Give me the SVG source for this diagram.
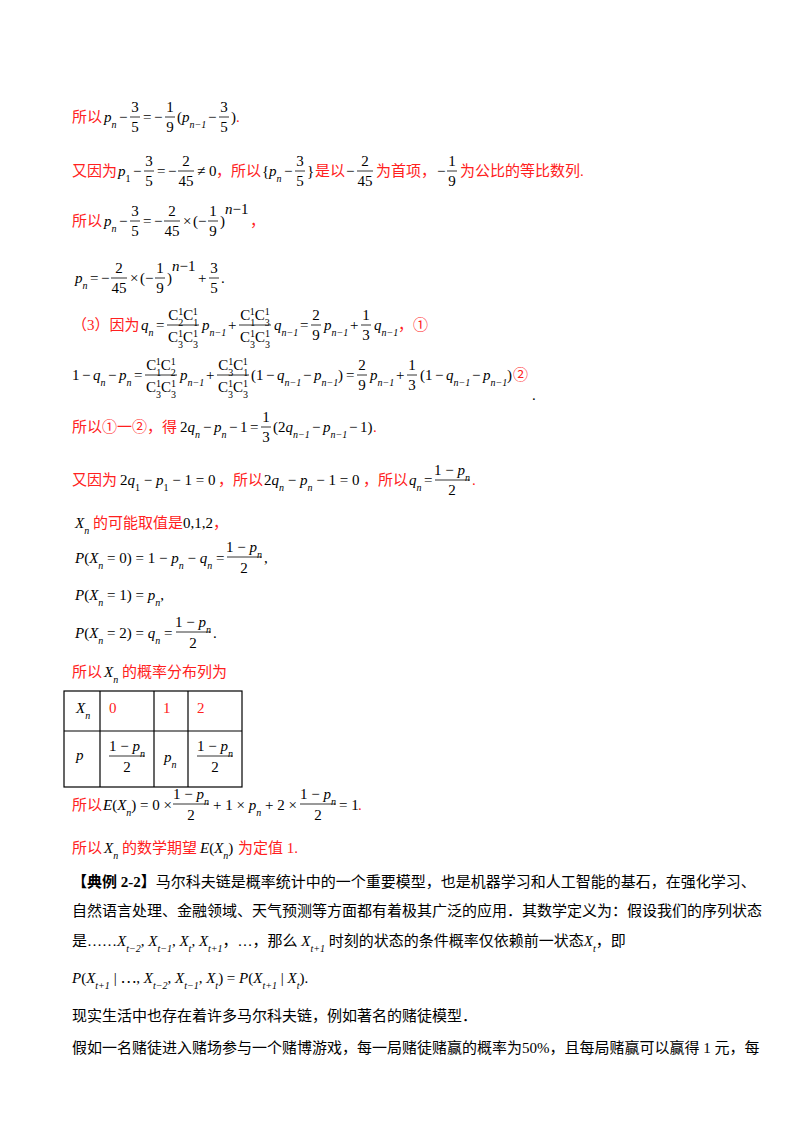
<svg xmlns="http://www.w3.org/2000/svg" width="800" height="1132" viewBox="0 0 800 1132">
<style>
text{font-family:"Liberation Serif","Noto Sans CJK SC",serif;font-size:15px;fill:#000}
.r{fill:#ff2020}
.i{font-style:italic}
.s{font-size:10px;baseline-shift:sub}
.u{font-size:10px;baseline-shift:super}
.c{text-anchor:middle}
.fl{stroke:#000;stroke-width:0.8}
.b{font-weight:bold}
.cell{fill:none;stroke:#000;stroke-width:1.2}
</style>
<rect width="800" height="1132" fill="#fff"/>
<g id="l1">
<text x="72" y="122" class="r">所以</text>
<text x="104" y="122"><tspan class="i">p</tspan><tspan class="s i">n</tspan></text>
<text x="119" y="122">−</text>
<text x="135" y="112" class="c">3</text><line x1="130" y1="117" x2="140" y2="117" class="fl"/><text x="135" y="132" class="c">5</text>
<text x="143" y="122">=</text><text x="154" y="122">−</text>
<text x="170" y="112" class="c">1</text><line x1="165" y1="117" x2="175" y2="117" class="fl"/><text x="170" y="132" class="c">9</text>
<text x="177" y="122">(</text>
<text x="182" y="122"><tspan class="i">p</tspan><tspan class="s i">n−1</tspan></text>
<text x="208" y="122">−</text>
<text x="224" y="112" class="c">3</text><line x1="219" y1="117" x2="229" y2="117" class="fl"/><text x="224" y="132" class="c">5</text>
<text x="231" y="122">)</text><text x="236" y="122" class="r">.</text>
</g>
<g id="l2">
<text x="72" y="176" class="r">又因为</text>
<text x="118" y="176"><tspan class="i">p</tspan><tspan class="s">1</tspan></text>
<text x="133" y="176">−</text>
<text x="149" y="166" class="c">3</text><line x1="144" y1="171" x2="154" y2="171" class="fl"/><text x="149" y="186" class="c">5</text>
<text x="157" y="176">=</text><text x="168" y="176">−</text>
<text x="186" y="166" class="c">2</text><line x1="178" y1="171" x2="194" y2="171" class="fl"/><text x="186" y="186" class="c">45</text>
<text x="197" y="176">≠ 0</text>
<text x="216" y="176" class="r">，所以</text>
<text x="262" y="176">{</text>
<text x="269" y="176"><tspan class="i">p</tspan><tspan class="s i">n</tspan></text>
<text x="284" y="176">−</text>
<text x="300" y="166" class="c">3</text><line x1="295" y1="171" x2="305" y2="171" class="fl"/><text x="300" y="186" class="c">5</text>
<text x="307" y="176">}</text>
<text x="315" y="176" class="r">是以</text>
<text x="346" y="176">−</text>
<text x="365" y="166" class="c">2</text><line x1="357" y1="171" x2="373" y2="171" class="fl"/><text x="365" y="186" class="c">45</text>
<text x="376" y="176" class="r">为首项，</text>
<text x="437" y="176">−</text>
<text x="452" y="166" class="c">1</text><line x1="447" y1="171" x2="457" y2="171" class="fl"/><text x="452" y="186" class="c">9</text>
<text x="460" y="176" class="r">为公比的等比数列.</text>
</g>
<g id="l3">
<text x="72" y="226" class="r">所以</text>
<text x="104" y="226"><tspan class="i">p</tspan><tspan class="s i">n</tspan></text>
<text x="119" y="226">−</text>
<text x="135" y="216" class="c">3</text><line x1="130" y1="221" x2="140" y2="221" class="fl"/><text x="135" y="236" class="c">5</text>
<text x="143" y="226">=</text><text x="154" y="226">−</text>
<text x="172" y="216" class="c">2</text><line x1="164" y1="221" x2="180" y2="221" class="fl"/><text x="172" y="236" class="c">45</text>
<text x="183" y="226">×</text><text x="193" y="226">(</text><text x="198" y="226">−</text>
<text x="213" y="216" class="c">1</text><line x1="208" y1="221" x2="218" y2="221" class="fl"/><text x="213" y="236" class="c">9</text>
<text x="220" y="226">)</text><text x="225" y="214" font-size="10"><tspan class="i">n</tspan>−1</text>
<text x="250" y="226" class="r">，</text>
</g>
<g id="l4">
<text x="75" y="283"><tspan class="i">p</tspan><tspan class="s i">n</tspan></text>
<text x="90" y="283">=</text><text x="101" y="283">−</text>
<text x="119" y="273" class="c">2</text><line x1="111" y1="278" x2="127" y2="278" class="fl"/><text x="119" y="293" class="c">45</text>
<text x="130" y="283">×</text><text x="140" y="283">(</text><text x="145" y="283">−</text>
<text x="160" y="273" class="c">1</text><line x1="155" y1="278" x2="165" y2="278" class="fl"/><text x="160" y="293" class="c">9</text>
<text x="167" y="283">)</text><text x="172" y="271" font-size="10"><tspan class="i">n</tspan>−1</text>
<text x="198" y="283">+</text>
<text x="214" y="273" class="c">3</text><line x1="209" y1="278" x2="219" y2="278" class="fl"/><text x="214" y="293" class="c">5</text>
<text x="221" y="283">.</text>
</g>
<g id="l5">
<text x="72" y="330" class="r">（3）因为</text>
<text x="141" y="330"><tspan class="i">q</tspan><tspan class="s i">n</tspan></text>
<text x="156" y="330">=</text>
<text x="183" y="320" class="c">C<tspan class="s">2</tspan><tspan class="u" dx="-5">1</tspan>C<tspan class="s">1</tspan><tspan class="u" dx="-5">1</tspan></text><line x1="167" y1="325" x2="199" y2="325" class="fl"/><text x="183" y="342" class="c">C<tspan class="s">3</tspan><tspan class="u" dx="-5">1</tspan>C<tspan class="s">3</tspan><tspan class="u" dx="-5">1</tspan></text>
<text x="202" y="330"><tspan class="i">p</tspan><tspan class="s i">n−1</tspan></text>
<text x="228" y="330">+</text>
<text x="255" y="320" class="c">C<tspan class="s">1</tspan><tspan class="u" dx="-5">1</tspan>C<tspan class="s">3</tspan><tspan class="u" dx="-5">1</tspan></text><line x1="239" y1="325" x2="271" y2="325" class="fl"/><text x="255" y="342" class="c">C<tspan class="s">3</tspan><tspan class="u" dx="-5">1</tspan>C<tspan class="s">3</tspan><tspan class="u" dx="-5">1</tspan></text>
<text x="274" y="330"><tspan class="i">q</tspan><tspan class="s i">n−1</tspan></text>
<text x="300" y="330">=</text>
<text x="316" y="320" class="c">2</text><line x1="311" y1="325" x2="321" y2="325" class="fl"/><text x="316" y="340" class="c">9</text>
<text x="324" y="330"><tspan class="i">p</tspan><tspan class="s i">n−1</tspan></text>
<text x="350" y="330">+</text>
<text x="366" y="320" class="c">1</text><line x1="361" y1="325" x2="371" y2="325" class="fl"/><text x="366" y="340" class="c">3</text>
<text x="374" y="330"><tspan class="i">q</tspan><tspan class="s i">n−1</tspan></text>
<text x="398" y="330" class="r">，①</text>
</g>
<g id="l6">
<text x="72" y="380">1</text><text x="82" y="380">−</text>
<text x="93" y="380"><tspan class="i">q</tspan><tspan class="s i">n</tspan></text>
<text x="108" y="380">−</text>
<text x="119" y="380"><tspan class="i">p</tspan><tspan class="s i">n</tspan></text>
<text x="134" y="380">=</text>
<text x="161" y="370" class="c">C<tspan class="s">1</tspan><tspan class="u" dx="-5">1</tspan>C<tspan class="s">2</tspan><tspan class="u" dx="-5">1</tspan></text><line x1="145" y1="375" x2="177" y2="375" class="fl"/><text x="161" y="392" class="c">C<tspan class="s">3</tspan><tspan class="u" dx="-5">1</tspan>C<tspan class="s">3</tspan><tspan class="u" dx="-5">1</tspan></text>
<text x="180" y="380"><tspan class="i">p</tspan><tspan class="s i">n−1</tspan></text>
<text x="206" y="380">+</text>
<text x="233" y="370" class="c">C<tspan class="s">3</tspan><tspan class="u" dx="-5">1</tspan>C<tspan class="s">1</tspan><tspan class="u" dx="-5">1</tspan></text><line x1="217" y1="375" x2="249" y2="375" class="fl"/><text x="233" y="392" class="c">C<tspan class="s">3</tspan><tspan class="u" dx="-5">1</tspan>C<tspan class="s">3</tspan><tspan class="u" dx="-5">1</tspan></text>
<text x="251" y="380">(1</text><text x="266" y="380">−</text>
<text x="277" y="380"><tspan class="i">q</tspan><tspan class="s i">n−1</tspan></text>
<text x="303" y="380">−</text>
<text x="314" y="380"><tspan class="i">p</tspan><tspan class="s i">n−1</tspan></text>
<text x="338" y="380">)</text>
<text x="346" y="380">=</text>
<text x="362" y="370" class="c">2</text><line x1="357" y1="375" x2="367" y2="375" class="fl"/><text x="362" y="390" class="c">9</text>
<text x="370" y="380"><tspan class="i">p</tspan><tspan class="s i">n−1</tspan></text>
<text x="396" y="380">+</text>
<text x="412" y="370" class="c">1</text><line x1="407" y1="375" x2="417" y2="375" class="fl"/><text x="412" y="390" class="c">3</text>
<text x="420" y="380">(1</text><text x="435" y="380">−</text>
<text x="446" y="380"><tspan class="i">q</tspan><tspan class="s i">n−1</tspan></text>
<text x="472" y="380">−</text>
<text x="483" y="380"><tspan class="i">p</tspan><tspan class="s i">n−1</tspan></text>
<text x="507" y="380">)</text>
<text x="513" y="380" class="r">②</text>
<text x="532" y="400">.</text>
</g>
<g id="l7">
<text x="72" y="432" class="r">所以①一②，得</text>
<text x="180" y="432">2<tspan class="i">q</tspan><tspan class="s i">n</tspan></text>
<text x="203" y="432">−</text>
<text x="214" y="432"><tspan class="i">p</tspan><tspan class="s i">n</tspan></text>
<text x="229" y="432">−</text><text x="240" y="432">1</text>
<text x="250" y="432">=</text>
<text x="266" y="422" class="c">1</text><line x1="261" y1="427" x2="271" y2="427" class="fl"/><text x="266" y="442" class="c">3</text>
<text x="273" y="432">(2<tspan class="i">q</tspan><tspan class="s i">n−1</tspan></text>
<text x="312" y="432">−</text>
<text x="323" y="432"><tspan class="i">p</tspan><tspan class="s i">n−1</tspan></text>
<text x="349" y="432">−</text><text x="360" y="432">1)</text>
<text x="373" y="432" class="r">.</text>
</g>
<g id="l8">
<text x="72" y="485" class="r">又因为</text>
<text x="120" y="485">2<tspan class="i">q</tspan><tspan class="s">1</tspan> − <tspan class="i">p</tspan><tspan class="s">1</tspan> − 1 = 0</text>
<text x="218" y="485" class="r">，所以</text>
<text x="264" y="485">2<tspan class="i">q</tspan><tspan class="s i">n</tspan> − <tspan class="i">p</tspan><tspan class="s i">n</tspan> − 1 = 0</text>
<text x="363" y="485" class="r">，所以</text>
<text x="409" y="485"><tspan class="i">q</tspan><tspan class="s i">n</tspan></text>
<text x="424" y="485">=</text>
<text x="452" y="475" class="c">1 − <tspan class="i">p</tspan><tspan class="s i">n</tspan></text><line x1="435" y1="480" x2="470" y2="480" class="fl"/><text x="452" y="495" class="c">2</text>
<text x="472" y="485" class="r">.</text>
</g>
<g id="l9">
<text x="75" y="528"><tspan class="i">X</tspan><tspan class="s i">n</tspan></text>
<text x="93" y="528"><tspan class="r">的可能取值是</tspan>0,1,2<tspan class="r">，</tspan></text>
<text x="75" y="563"><tspan class="i">P</tspan>(<tspan class="i">X</tspan><tspan class="s i">n</tspan> = 0) = 1 − <tspan class="i">p</tspan><tspan class="s i">n</tspan> − <tspan class="i">q</tspan><tspan class="s i">n</tspan> =</text>
<text x="244" y="552" class="c">1 − <tspan class="i">p</tspan><tspan class="s i">n</tspan></text><line x1="227" y1="557" x2="262" y2="557" class="fl"/><text x="244" y="573" class="c">2</text>
<text x="264" y="563">,</text>
<text x="75" y="600"><tspan class="i">P</tspan>(<tspan class="i">X</tspan><tspan class="s i">n</tspan> = 1) = <tspan class="i">p</tspan><tspan class="s i">n</tspan>,</text>
<text x="75" y="638"><tspan class="i">P</tspan>(<tspan class="i">X</tspan><tspan class="s i">n</tspan> = 2) = <tspan class="i">q</tspan><tspan class="s i">n</tspan> =</text>
<text x="193" y="627" class="c">1 − <tspan class="i">p</tspan><tspan class="s i">n</tspan></text><line x1="176" y1="632" x2="211" y2="632" class="fl"/><text x="193" y="648" class="c">2</text>
<text x="213" y="638">.</text>
<text x="72" y="677" class="r">所以</text>
<text x="104" y="677"><tspan class="i">X</tspan><tspan class="s i">n</tspan></text>
<text x="122" y="677" class="r">的概率分布列为</text>
</g>
<g id="table">
<rect x="64" y="691" width="178" height="96" class="cell"/>
<line x1="64" y1="731" x2="242" y2="731" class="cell"/>
<line x1="100" y1="691" x2="100" y2="787" class="cell"/>
<line x1="154" y1="691" x2="154" y2="787" class="cell"/>
<line x1="188" y1="691" x2="188" y2="787" class="cell"/>
<text x="76" y="713"><tspan class="i">X</tspan><tspan class="s i">n</tspan></text>
<text x="109" y="713" class="r">0</text>
<text x="163" y="713" class="r">1</text>
<text x="197" y="713" class="r">2</text>
<text x="76" y="760" class="i">p</text>
<text x="127" y="751" class="c">1 − <tspan class="i">p</tspan><tspan class="s i">n</tspan></text><line x1="109" y1="756" x2="145" y2="756" class="fl"/><text x="127" y="772" class="c">2</text>
<text x="164" y="762"><tspan class="i">p</tspan><tspan class="s i">n</tspan></text>
<text x="215" y="751" class="c">1 − <tspan class="i">p</tspan><tspan class="s i">n</tspan></text><line x1="197" y1="756" x2="233" y2="756" class="fl"/><text x="215" y="772" class="c">2</text>
</g>
<g id="l10">
<text x="72" y="810" class="r">所以</text>
<text x="103" y="810"><tspan class="i">E</tspan>(<tspan class="i">X</tspan><tspan class="s i">n</tspan>) = 0 ×</text>
<text x="191" y="799" class="c">1 − <tspan class="i">p</tspan><tspan class="s i">n</tspan></text><line x1="173" y1="804" x2="209" y2="804" class="fl"/><text x="191" y="820" class="c">2</text>
<text x="213" y="810">+ 1 × <tspan class="i">p</tspan><tspan class="s i">n</tspan> + 2 ×</text>
<text x="318" y="799" class="c">1 − <tspan class="i">p</tspan><tspan class="s i">n</tspan></text><line x1="300" y1="804" x2="336" y2="804" class="fl"/><text x="318" y="820" class="c">2</text>
<text x="339" y="810">= 1</text><text x="358" y="810" class="r">.</text>
<text x="72" y="853" class="r">所以</text>
<text x="104" y="853"><tspan class="i">X</tspan><tspan class="s i">n</tspan></text>
<text x="122" y="853" class="r">的数学期望</text>
<text x="200" y="853"><tspan class="i">E</tspan>(<tspan class="i">X</tspan><tspan class="s i">n</tspan>)</text>
<text x="238" y="853" class="r">为定值 1.</text>
</g>
<g id="para">
<text x="72" y="887"><tspan class="b">【典例 2-2】</tspan>马尔科夫链是概率统计中的一个重要模型，也是机器学习和人工智能的基石，在强化学习、</text>
<text x="72" y="916">自然语言处理、金融领域、天气预测等方面都有着极其广泛的应用．其数学定义为：假设我们的序列状态</text>
<text x="72" y="946">是……<tspan class="i">X</tspan><tspan class="s i">t−2</tspan>, <tspan class="i">X</tspan><tspan class="s i">t−1</tspan>, <tspan class="i">X</tspan><tspan class="s i">t</tspan>, <tspan class="i">X</tspan><tspan class="s i">t+1</tspan>，…，那么 <tspan class="i">X</tspan><tspan class="s i">t+1</tspan> 时刻的状态的条件概率仅依赖前一状态<tspan class="i">X</tspan><tspan class="s i">t</tspan>，即</text>
<text x="72" y="983"><tspan class="i">P</tspan>(<tspan class="i">X</tspan><tspan class="s i">t+1</tspan> | ⋯, <tspan class="i">X</tspan><tspan class="s i">t−2</tspan>, <tspan class="i">X</tspan><tspan class="s i">t−1</tspan>, <tspan class="i">X</tspan><tspan class="s i">t</tspan>) = <tspan class="i">P</tspan>(<tspan class="i">X</tspan><tspan class="s i">t+1</tspan> | <tspan class="i">X</tspan><tspan class="s i">t</tspan>).</text>
<text x="72" y="1021">现实生活中也存在着许多马尔科夫链，例如著名的赌徒模型．</text>
<text x="72" y="1053">假如一名赌徒进入赌场参与一个赌博游戏，每一局赌徒赌赢的概率为50%，且每局赌赢可以赢得 1 元，每</text>
</g>
</svg>
